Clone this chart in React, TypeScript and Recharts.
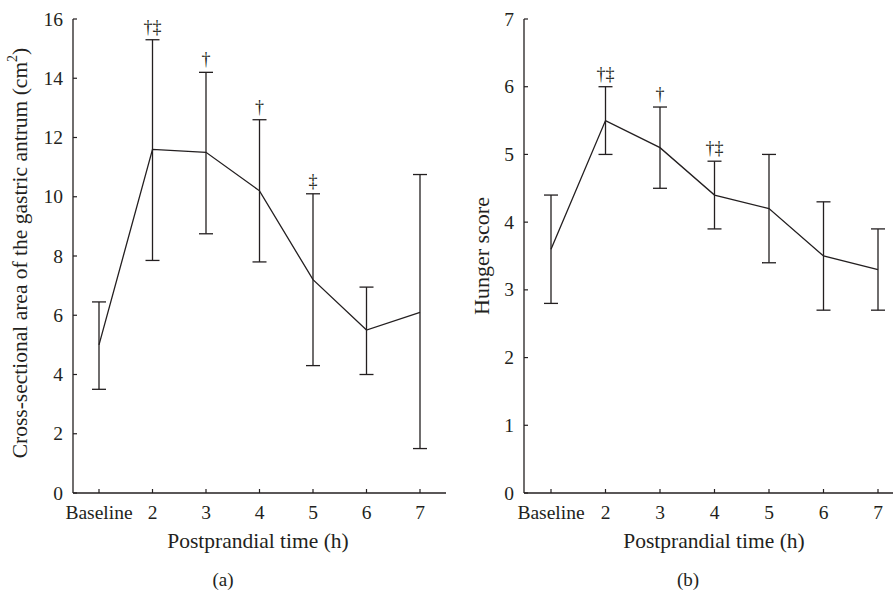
import { LineChart, Line, XAxis, YAxis, ErrorBar, LabelList } from 'recharts'

const FONT = '"Liberation Serif", "DejaVu Serif", serif'
const INK = '#231f20'

const categories = ['Baseline', '2', '3', '4', '5', '6', '7']

// (a) cross-sectional area of the gastric antrum, cm2
const areaMean = [5.0, 11.6, 11.5, 10.2, 7.2, 5.5, 6.1]
const areaUpper = [6.45, 15.3, 14.2, 12.6, 10.1, 6.95, 10.75]
const areaLower = [3.5, 7.85, 8.75, 7.8, 4.3, 4.0, 1.5]
const areaMarks = ['', '†‡', '†', '†', '‡', '', '']
const areaTicks = [0, 2, 4, 6, 8, 10, 12, 14, 16]

// (b) hunger score
const hungerMean = [3.6, 5.5, 5.1, 4.4, 4.2, 3.5, 3.3]
const hungerUpper = [4.4, 6.0, 5.7, 4.9, 5.0, 4.3, 3.9]
const hungerLower = [2.8, 5.0, 4.5, 3.9, 3.4, 2.7, 2.7]
const hungerMarks = ['', '†‡', '†', '†‡', '', '', '']
const hungerTicks = [0, 1, 2, 3, 4, 5, 6, 7]

const buildRows = (mean: number[], upper: number[], lower: number[], marks: string[]) =>
  categories.map((time, i) => ({
    time,
    mean: mean[i],
    upper: upper[i],
    err: [mean[i] - lower[i], upper[i] - mean[i]],
    mark: marks[i],
  }))

const XTick = ({ x, y, payload }: any) => (
  <g>
    <line x1={x} y1={y} x2={x} y2={y - 4} stroke={INK} strokeWidth={1.2} />
    <text x={x} y={y + 26} textAnchor="middle" fontFamily={FONT} fontSize={19.5} fill={INK}>
      {payload.value}
    </text>
  </g>
)

const YTick = ({ x, y, payload }: any) => (
  <g>
    <line x1={x} y1={y} x2={x + 4} y2={y} stroke={INK} strokeWidth={1.2} />
    <text x={x - 10} y={y + 6.5} textAnchor="end" fontFamily={FONT} fontSize={19.5} fill={INK}>
      {payload.value}
    </text>
  </g>
)

interface PanelProps {
  rows: any[]
  ticks: number[]
  width: number
  yAxisWidth: number
  padLeft: number
  padRight: number
  yLabel: React.ReactNode
  yLabelX: number
  yLabelY: number
  yLabelSize: number
  xLabelX: number
  tag: string
  tagX: number
}

function Panel({ rows, ticks, width, yAxisWidth, padLeft, padRight, yLabel, yLabelX, yLabelY, yLabelSize, xLabelX, tag, tagX }: PanelProps) {
  const max = ticks[ticks.length - 1]
  return (
    <LineChart width={width} height={591} data={rows} margin={{ top: 19, right: 0, bottom: 0, left: 0 }}>
      <XAxis
        dataKey="time"
        height={98}
        padding={{ left: padLeft, right: padRight }}
        stroke={INK}
        strokeWidth={1.3}
        tickLine={false}
        tickSize={0}
        tickMargin={0}
        interval={0}
        tick={<XTick />}
        label={() => (
          <g>
            <text x={xLabelX} y={548} textAnchor="middle" fontFamily={FONT} fontSize={21.5} fill={INK}>
              Postprandial time (h)
            </text>
            <text x={tagX} y={586} textAnchor="middle" fontFamily={FONT} fontSize={19} fill={INK}>
              {tag}
            </text>
          </g>
        )}
      />
      <YAxis
        type="number"
        domain={[0, max]}
        ticks={ticks}
        width={yAxisWidth}
        stroke={INK}
        strokeWidth={1.3}
        tickLine={false}
        tickSize={0}
        tickMargin={0}
        interval={0}
        tick={<YTick />}
        label={() => (
          <text
            transform={`translate(${yLabelX},${yLabelY}) rotate(-90)`}
            textAnchor="middle"
            dominantBaseline="central"
            fontFamily={FONT}
            fontSize={yLabelSize}
            fill={INK}
          >
            {yLabel}
          </text>
        )}
      />
      <Line dataKey="mean" stroke={INK} strokeWidth={1.3} dot={false} activeDot={false} isAnimationActive={false}>
        <ErrorBar dataKey="err" direction="y" width={7} stroke={INK} strokeWidth={1.3} isAnimationActive={false} />
      </Line>
      <Line dataKey="upper" stroke="none" dot={false} activeDot={false} isAnimationActive={false}>
        <LabelList dataKey="mark" position="top" offset={7} fontFamily={FONT} fontSize={18} fill={INK} stroke="none" />
      </Line>
    </LineChart>
  )
}

export default function App() {
  return (
    <div style={{ position: 'absolute', left: 0, top: 0, width: 893, height: 591, background: '#fff' }}>
      <div style={{ position: 'absolute', left: 0, top: 0 }}>
        <Panel
          rows={buildRows(areaMean, areaUpper, areaLower, areaMarks)}
          ticks={areaTicks}
          width={446}
          yAxisWidth={73}
          padLeft={26}
          padRight={26}
          yLabel={
            <>
              Cross-sectional area of the gastric antrum (cm<tspan dy={-8} fontSize={14}>2</tspan>
              <tspan dy={8}>)</tspan>
            </>
          }
          yLabelX={20}
          yLabelY={253}
          yLabelSize={21.5}
          xLabelX={258}
          tag="(a)"
          tagX={223}
        />
      </div>
      <div style={{ position: 'absolute', left: 446, top: 0 }}>
        <Panel
          rows={buildRows(hungerMean, hungerUpper, hungerLower, hungerMarks)}
          ticks={hungerTicks}
          width={447}
          yAxisWidth={78}
          padLeft={27}
          padRight={15}
          yLabel="Hunger score"
          yLabelX={35}
          yLabelY={256}
          yLabelSize={22}
          xLabelX={268}
          tag="(b)"
          tagX={242}
        />
      </div>
    </div>
  )
}
